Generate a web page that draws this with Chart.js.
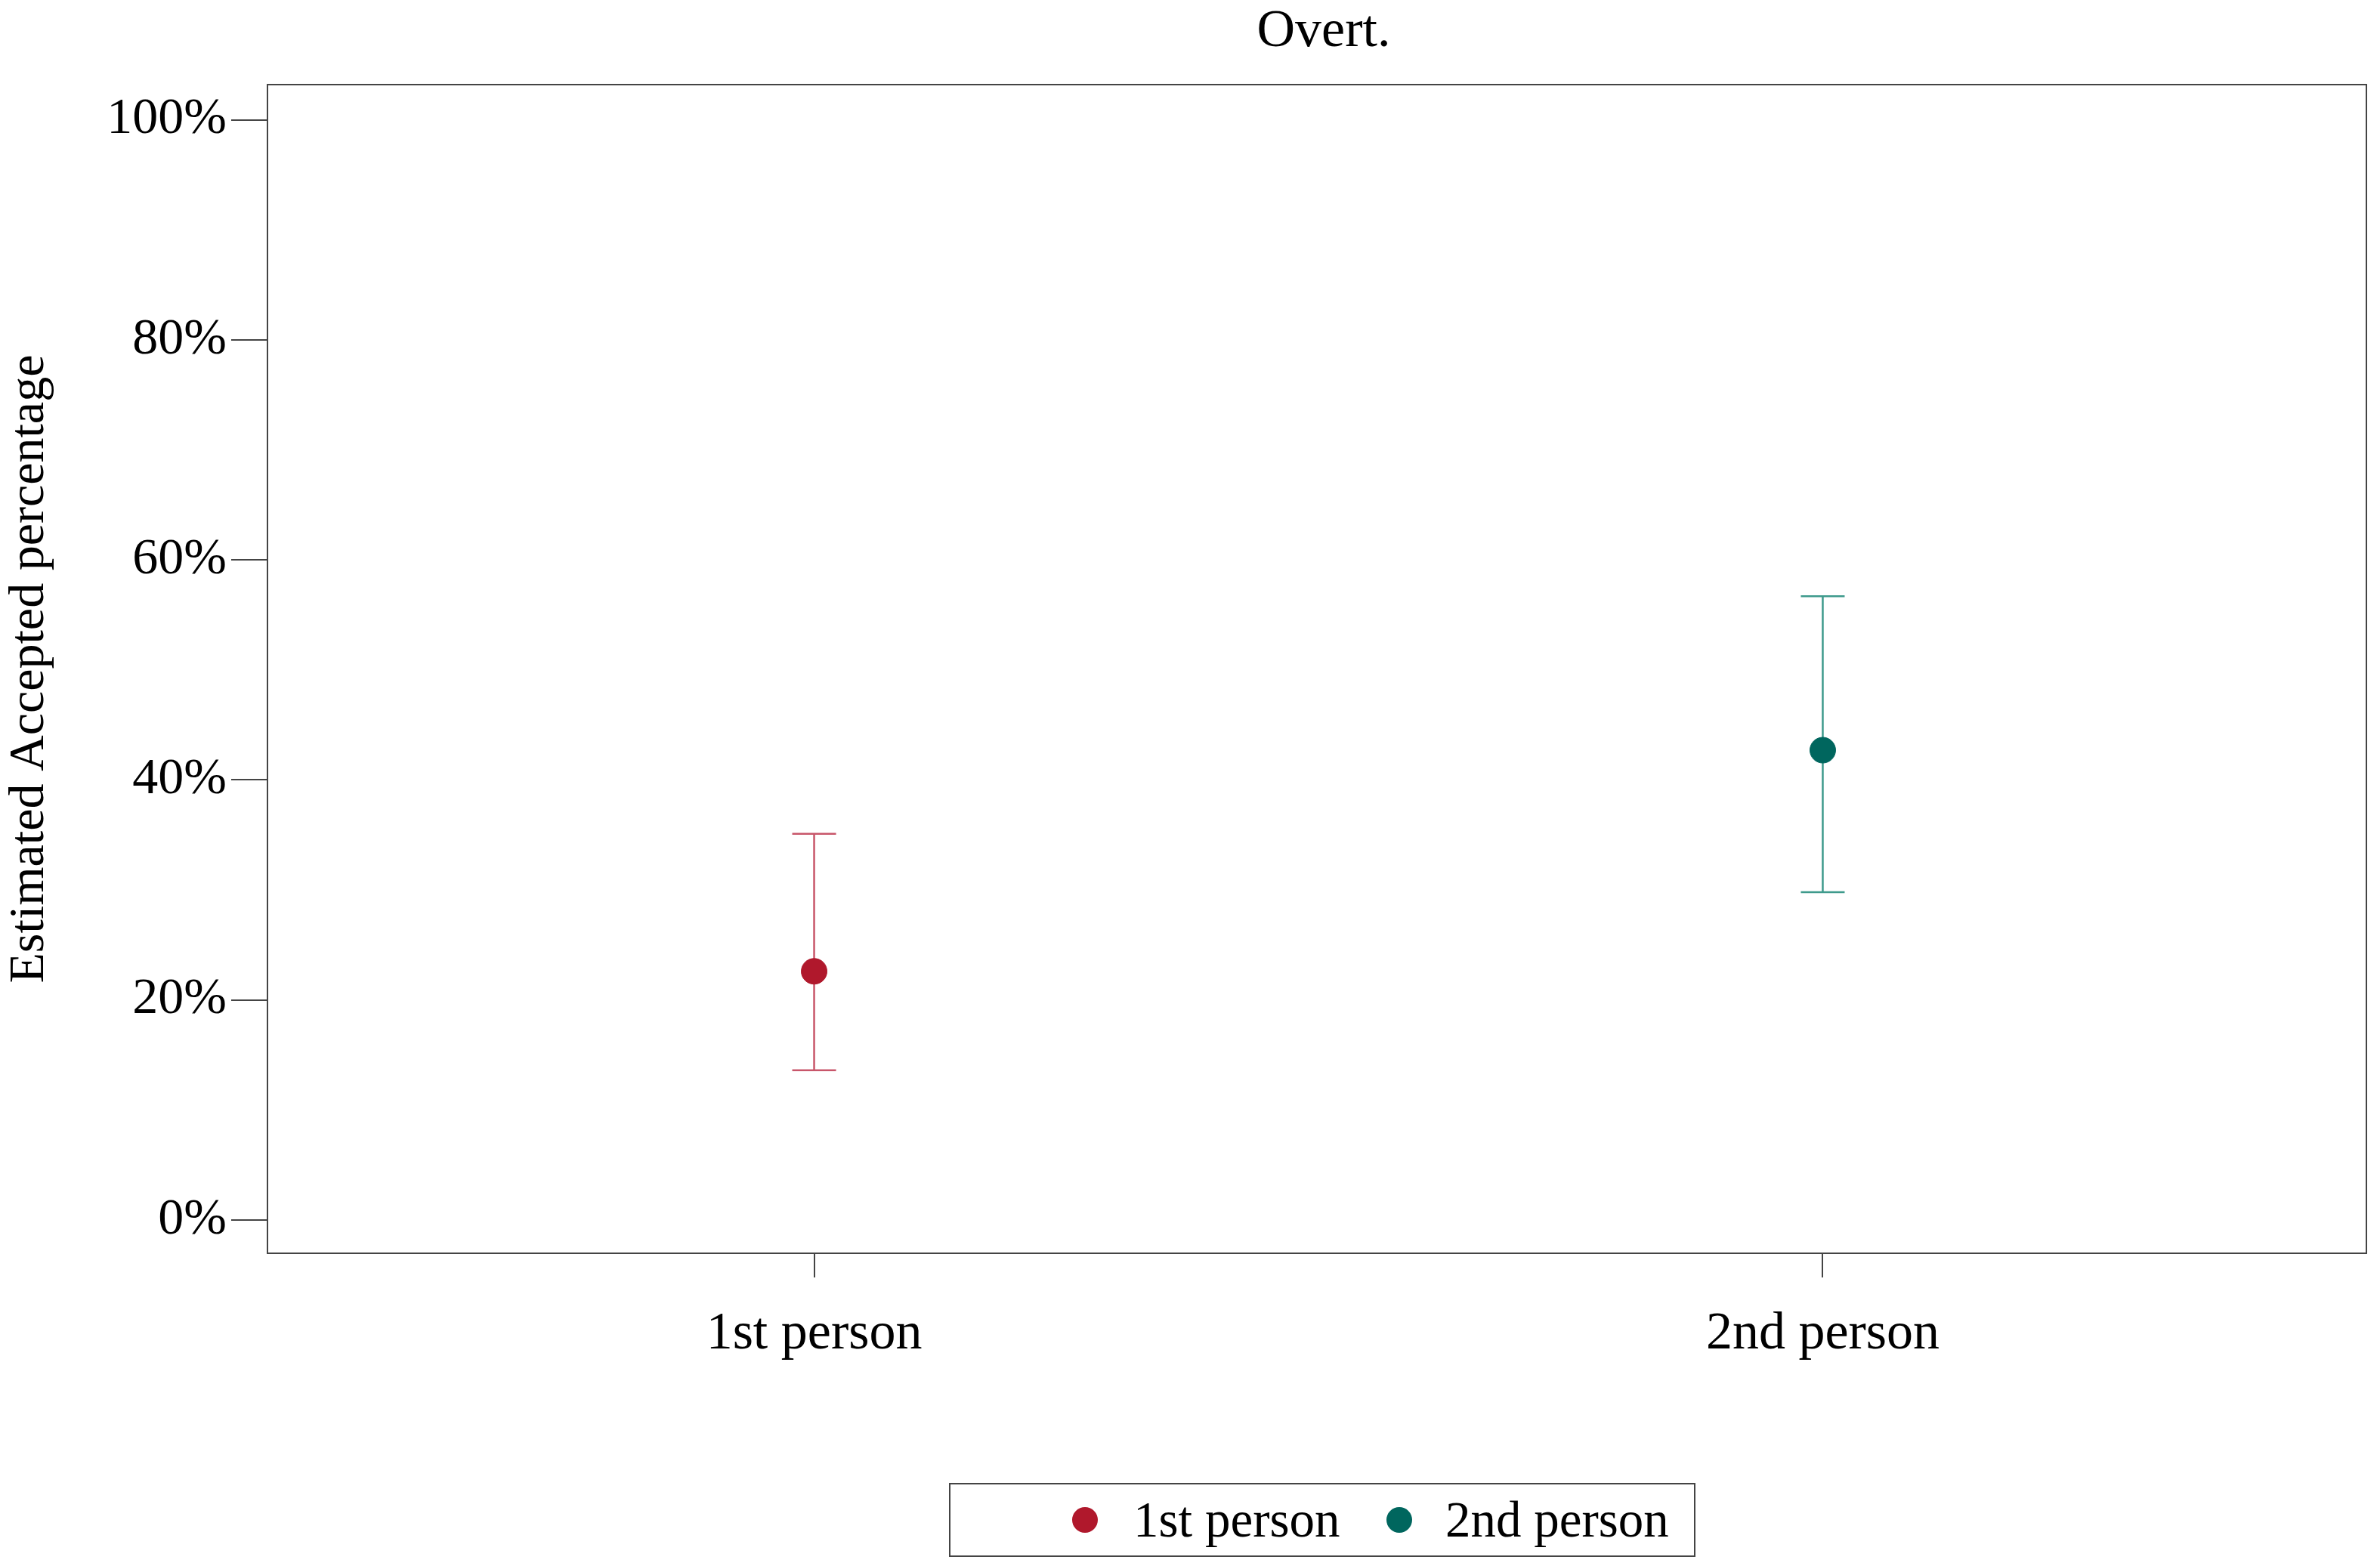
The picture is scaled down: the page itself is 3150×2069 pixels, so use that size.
<!DOCTYPE html>
<html>
<head>
<meta charset="utf-8">
<script src="https://cdn.jsdelivr.net/npm/chart.js@4/dist/chart.umd.min.js"></script>
<style>
  html, body { margin: 0; background: #fff; font-family: "Liberation Serif", serif; overflow: hidden; }
  #wrap { position: relative; width: 3150px; height: 2069px; }
  canvas { display: block; }
  #title { position: absolute; left: 0; width: 3504px; top: 0; text-align: center; font-size: 70px; line-height: 76px; }
  #legend { position: absolute; left: 1256px; top: 1963px; width: 988px; height: 98px; border: 2px solid #444; box-sizing: border-box; font-size: 67px; }
  .item { position: absolute; top: 10px; line-height: 72px; }
  .dot { position: absolute; width: 34px; height: 34px; border-radius: 50%; top: 30px; }
</style>
</head>
<body>
<div id="wrap">
  <canvas id="c" width="3150" height="2069"></canvas>
  <div id="title">Overt.</div>
  <div id="legend">
    <div class="dot" style="left:161px;background:#B0182C"></div>
    <div class="item" style="left:242px">1st person</div>
    <div class="dot" style="left:577px;background:#00665E"></div>
    <div class="item" style="left:655px">2nd person</div>
  </div>
</div>
<script>
// Data
const categories = ['1st person', '2nd person'];
const estimates = [22.6, 42.7];
const lowerCI = [13.6, 29.8];
const upperCI = [35.1, 56.7];
const yTicks = [0, 20, 40, 60, 80, 100];
const pointColors = ['#B0182C', '#00665E'];
const barColors = ['#C8566A', '#3E9A8C'];

// Error bars + frame
const errorBars = {
    id: 'errorBars',
    beforeDatasetsDraw(chart) {
        const ctx = chart.ctx;
        const x = chart.scales.x, y = chart.scales.y;
        ctx.save();
        ctx.lineWidth = 2.5;
        categories.forEach((c, i) => {
            const px = x.getPixelForValue(i + 1);
            const lo = y.getPixelForValue(lowerCI[i]);
            const hi = y.getPixelForValue(upperCI[i]);
            ctx.strokeStyle = barColors[i];
            ctx.beginPath();
            ctx.moveTo(px, lo); ctx.lineTo(px, hi);
            ctx.moveTo(px - 29, lo); ctx.lineTo(px + 29, lo);
            ctx.moveTo(px - 29, hi); ctx.lineTo(px + 29, hi);
            ctx.stroke();
        });
        const a = chart.chartArea;
        ctx.strokeStyle = '#444';
        ctx.lineWidth = 2;
        ctx.strokeRect(a.left, a.top, a.right - a.left, a.bottom - a.top);
        ctx.restore();
    }
};

new Chart(document.getElementById('c'), {
    type: 'scatter',
    data: {
        datasets: [{
            data: estimates.map((v, i) => ({ x: i + 1, y: v })),
            backgroundColor: pointColors,
            borderColor: pointColors,
            pointRadius: 17,
            pointHoverRadius: 17
        }]
    },
    options: {
        responsive: false,
        animation: false,
        devicePixelRatio: 1,
        layout: { padding: { left: 0, right: 3, top: 112, bottom: 0 } },
        plugins: { legend: { display: false }, tooltip: { enabled: false } },
        scales: {
            x: {
                type: 'linear', min: 0.458, max: 2.539,
                afterBuildTicks: s => { s.ticks = [{ value: 1 }, { value: 2 }]; },
                afterFit: s => { s.height = 410; },
                border: { display: false },
                grid: { drawOnChartArea: false, tickLength: 32, color: '#444', lineWidth: 2 },
                ticks: { callback: v => categories[v - 1], color: '#000', padding: 34,
                         font: { family: 'Liberation Serif', size: 70 } }
            },
            y: {
                min: -3.03, max: 103.2,
                afterBuildTicks: s => { s.ticks = yTicks.map(v => ({ value: v })); },
                afterFit: s => { s.width = 354; },
                border: { display: false },
                grid: { drawOnChartArea: false, tickLength: 48, color: '#444', lineWidth: 2 },
                ticks: { callback: v => v + '%', color: '#000', padding: 6,
                         font: { family: 'Liberation Serif', size: 68 } },
                title: { display: true, text: 'Estimated Accepted percentage', color: '#000',
                         padding: 0, font: { family: 'Liberation Serif', size: 66 } }
            }
        }
    },
    plugins: [errorBars]
});
</script>
</body>
</html>
